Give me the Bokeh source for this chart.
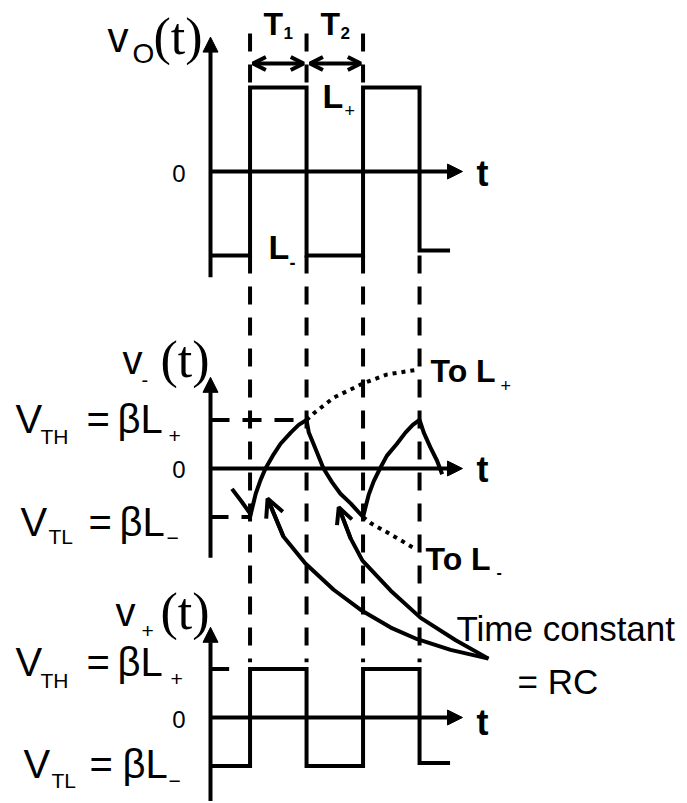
from bokeh.plotting import figure
from bokeh.models import Range1d, Arrow, NormalHead, OpenHead, Label
from bokeh.embed import file_html
from bokeh.resources import INLINE

# ---------------- data (time in half-period units, voltage in units of L+) ----------------
t_switch = [0.7, 1.7, 2.7, 3.7]          # switching instants (T1 = T2 = 1)
L_plus, L_minus = 1.0, -1.0
V_TH, V_TL = 0.5, -0.5                    # beta = 0.5

# output v_O(t)
vo_t = [0.0, 0.7, 0.7, 1.7, 1.7, 2.7, 2.7, 3.7, 3.7, 4.24]
vo_v = [-1.0, -1.0, 1.0, 1.0, -1.0, -1.0, 1.0, 1.0, -0.94, -0.94]

# v+(t)
vp_t = [0.0, 0.7, 0.7, 1.7, 1.7, 2.7, 2.7, 3.7, 3.7, 4.24]
vp_v = [-0.5, -0.5, 0.5, 0.5, -0.5, -0.5, 0.5, 0.5, -0.47, -0.47]

# v-(t) capacitor voltage pieces
pre_t = [0.38, 0.55, 0.72]
pre_v = [-0.21, -0.34, -0.48]
chg1_t = [0.70, 0.80, 0.885, 0.973, 1.10, 1.24, 1.42, 1.56, 1.70]
chg1_v = [-0.50, -0.26, -0.12, 0.00, 0.13, 0.255, 0.37, 0.45, 0.50]
dis1_t = [1.70, 1.74, 1.86, 2.00, 2.15, 2.30, 2.48, 2.70]
dis1_v = [0.50, 0.37, 0.20, 0.00, -0.14, -0.26, -0.36, -0.50]
chg2_t = [2.70, 2.80, 2.89, 3.00, 3.12, 3.30, 3.45, 3.58, 3.70]
chg2_v = [-0.50, -0.27, -0.13, 0.00, 0.13, 0.255, 0.37, 0.45, 0.50]
dis2_t = [3.70, 3.775, 3.89, 4.01, 4.10]
dis2_v = [0.50, 0.37, 0.22, 0.08, -0.06]
toLp_t = [1.70, 1.83, 2.18, 2.71, 3.13, 3.68]
toLp_v = [0.50, 0.57, 0.73, 0.88, 0.97, 1.02]
toLm_t = [2.70, 2.84, 3.25, 3.60]
toLm_v = [-0.50, -0.565, -0.70, -0.82]

# "Time constant = RC" pointer curves (in v- panel units)
ptrA_t = [1.01, 1.29, 1.68, 2.18, 2.69, 3.19, 3.66, 4.25, 4.92]
ptrA_v = [-0.31, -0.70, -0.98, -1.25, -1.47, -1.64, -1.76, -1.87, -1.96]
ptrB_t = [2.27, 2.48, 2.69, 3.19, 3.72, 4.34, 4.92]
ptrB_v = [-0.40, -0.72, -0.95, -1.26, -1.54, -1.77, -1.96]

# ---------------- layout (reference-pixel frame) ----------------
X0, X1 = 0, 685
Y0, Y1 = 0, 801
T_ORIGIN_PX = 210
PX_PER_T = 56.5
PANELS = {"vo": (171, 84), "vm": (468, 97), "vp": (717, 97)}


def ref_y(panel, v):
    z, s = PANELS[panel]
    return z - v * s


def to_panel(panel, ry):
    z, s = PANELS[panel]
    return (z - ry) / s


p = figure(width=X1 - X0, height=Y1 - Y0, x_range=Range1d(X0, X1), y_range=Range1d(Y1, Y0),
           x_axis_type=None, y_axis_type=None, output_backend="svg",
           toolbar_location=None, min_border=0, outline_line_color=None)
p.background_fill_color = "white"
p.border_fill_color = "white"
p.extra_x_ranges = {"t": Range1d((X0 - T_ORIGIN_PX) / PX_PER_T, (X1 - T_ORIGIN_PX) / PX_PER_T)}
p.extra_y_ranges = {k: Range1d(to_panel(k, Y1), to_panel(k, Y0)) for k in PANELS}

LW = 4
BLK = "black"
DASH = "18 13"
DOT = "4 5"


def ln(x, y, panel, dash="solid", w=LW, join="miter"):
    p.line(x, y, x_range_name="t", y_range_name=panel, line_width=w, line_color=BLK,
           line_dash=dash, line_join=join)


# axes with arrow heads
AXIS = {"vo": (-1.26, 1.60), "vm": (-0.92, 0.94), "vp": (-0.90, 0.93)}
T_AXIS_END = 4.46
for k, (lo, hi) in AXIS.items():
    p.add_layout(Arrow(x_start=0, y_start=lo, x_end=0, y_end=hi, x_range_name="t", y_range_name=k,
                       line_width=LW, line_color=BLK,
                       end=NormalHead(size=15, fill_color=BLK, line_color=BLK, line_width=1)))
    p.add_layout(Arrow(x_start=0, y_start=0, x_end=T_AXIS_END, y_end=0, x_range_name="t", y_range_name=k,
                       line_width=LW, line_color=BLK,
                       end=NormalHead(size=15, fill_color=BLK, line_color=BLK, line_width=1)))

# vertical dashed guide lines
for ts in t_switch[:3]:
    ln([ts, ts], [to_panel("vo", 33), L_plus], "vo", DASH)
for ts in t_switch:
    ln([ts, ts], [L_minus, to_panel("vo", ref_y("vp", 0.57))], "vo", DASH)

# waveforms
ln(vo_t, vo_v, "vo")
ln(vp_t, vp_v, "vp")
ln([0, 0.33], [V_TH, V_TH], "vp")

ln([0, t_switch[1]], [V_TH, V_TH], "vm", "19 13")
ln([0, t_switch[0]], [V_TL, V_TL], "vm", DASH)
for tt, vv in [(pre_t, pre_v), (chg1_t, chg1_v), (dis1_t, dis1_v), (chg2_t, chg2_v), (dis2_t, dis2_v)]:
    ln(tt, vv, "vm", join="round")
ln(toLp_t, toLp_v, "vm", DOT)
ln(toLm_t, toLm_v, "vm", DOT)

# pointer curves with open arrow heads
for tt, vv, hs in [(ptrA_t, ptrA_v, 18), (ptrB_t, ptrB_v, 16)]:
    ln(tt, vv, "vm", join="round")
    p.add_layout(Arrow(x_start=tt[1], y_start=vv[1], x_end=tt[0], y_end=vv[0], x_range_name="t",
                       y_range_name="vm", line_width=LW, line_color=BLK,
                       end=OpenHead(size=hs, line_width=LW, line_color=BLK)))

# T1 / T2 double arrows
T_ARROW_V = to_panel("vo", 63)
for a, b in [(t_switch[0] + 0.05, t_switch[1] - 0.05), (t_switch[1] + 0.06, t_switch[2] - 0.04)]:
    p.add_layout(Arrow(x_start=a, y_start=T_ARROW_V, x_end=b, y_end=T_ARROW_V, x_range_name="t",
                       y_range_name="vo", line_width=LW, line_color=BLK,
                       start=OpenHead(size=13, line_width=LW, line_color=BLK),
                       end=OpenHead(size=13, line_width=LW, line_color=BLK)))

# ---------------- texts ----------------
SANS = "Liberation Sans"
SERIF = "Liberation Serif"


def txt(x, base_y, s, size, bold=False, font=SANS, align="left"):
    """Place text by its alphabetic baseline (converted to a 'middle' anchor)."""
    k = 0.34 if font == SERIF else 0.35
    p.add_layout(Label(x=x, y=base_y - k * size, text=s, text_font=font, text_font_size=f"{size}px",
                       text_font_style="bold" if bold else "normal", text_align=align,
                       text_baseline="middle", text_color=BLK))


# top panel
txt(107, 52, "v", 42)
txt(132, 63, "O", 28)
txt(153, 54, "(t)", 52, font=SERIF)
txt(263, 35, "T", 32, True)
txt(283, 38, "1", 17, True)
txt(320, 35, "T", 32, True)
txt(340, 38, "2", 17, True)
txt(322, 107, "L", 34, True)
txt(344, 116, "+", 18)
txt(268, 258, "L", 34, True)
txt(289, 268, "-", 18, True)
txt(185, 181, "0", 24, align="right")
txt(476, 186, "t", 36, True)

# middle panel
txt(122, 373, "v", 40)
txt(141, 386, "-", 20)
txt(160, 377, "(t)", 52, font=SERIF)
txt(15, 432, "V", 40)
txt(40, 443, "TH", 21)
txt(86, 432, "=", 40)
txt(117, 432, "βL", 40)
txt(168, 443, "+", 21)
txt(185, 477, "0", 24, align="right")
txt(20, 535, "V", 40)
txt(48, 543, "TL", 21)
txt(88, 535, "=", 40)
txt(119, 535, "βL", 40)
txt(166, 545, "\u2212", 21)
txt(476, 482, "t", 36, True)
txt(430, 382, "To L", 32, True)
txt(500, 391, "+", 18)
txt(425, 570, "To L", 32, True)
txt(496, 577, "-", 16, True)

# bottom panel
txt(115, 625, "v", 40)
txt(141, 638, "+", 21)
txt(160, 629, "(t)", 52, font=SERIF)
txt(15, 675, "V", 40)
txt(40, 687, "TH", 21)
txt(86, 675, "=", 40)
txt(117, 675, "βL", 40)
txt(170, 686, "+", 21)
txt(185, 727, "0", 24, align="right")
txt(23, 777, "V", 40)
txt(51, 787, "TL", 21)
txt(89, 777, "=", 40)
txt(122, 777, "βL", 40)
txt(168, 788, "\u2212", 21)
txt(476, 735, "t", 36, True)
txt(456, 640, "Time constant", 35)
txt(517, 693, "= RC", 35)

open("out.html", "w").write(file_html(p, INLINE))
